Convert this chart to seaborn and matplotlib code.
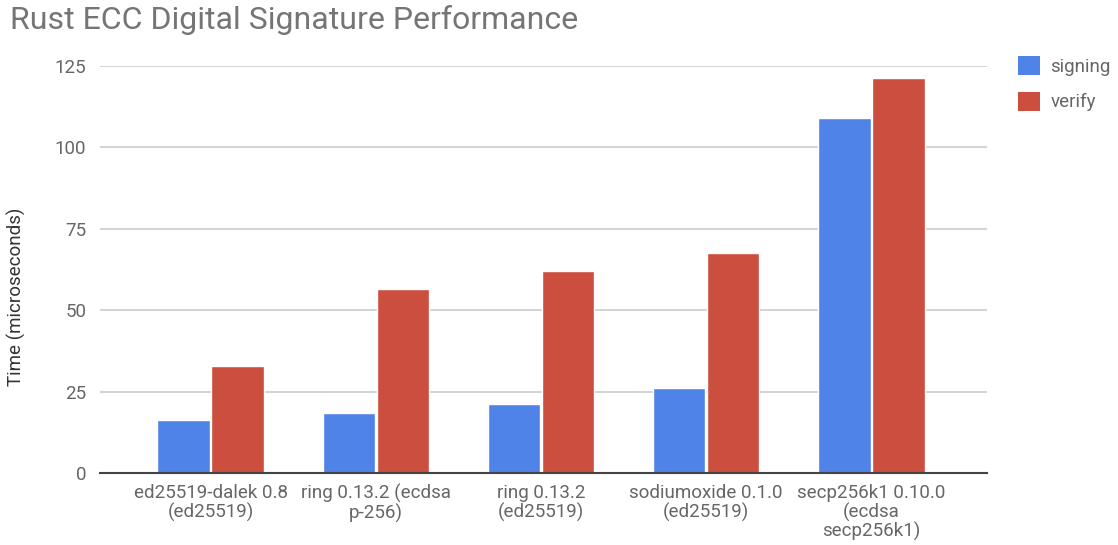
import matplotlib
matplotlib.use("Agg")
import matplotlib.pyplot as plt
import seaborn as sns
import pandas as pd
from matplotlib.patches import Patch

categories = [
    "ed25519-dalek 0.8\n(ed25519)",
    "ring 0.13.2 (ecdsa\np-256)",
    "ring 0.13.2\n(ed25519)",
    "sodiumoxide 0.1.0\n(ed25519)",
    "secp256k1 0.10.0\n(ecdsa\nsecp256k1)",
]
signing = [16.3, 18.3, 21.2, 26.1, 108.9]
verify = [33.0, 56.5, 62.0, 67.6, 121.2]
series = ["signing", "verify"]
colors = ["#5083e8", "#cb4e3e"]
yticks = [0, 25, 50, 75, 100, 125]

df = pd.DataFrame({
    "category": categories * 2,
    "series": [series[0]] * len(categories) + [series[1]] * len(categories),
    "value": signing + verify,
})

sns.set_theme(style="white")
plt.rcParams["font.family"] = ["Roboto", "DejaVu Sans"]

FS = 13.5

fig = plt.figure(figsize=(11.18, 5.45), dpi=100)
ax = fig.add_axes([100 / 1118, 1 - 473 / 545, 887 / 1118, 407 / 545])

sns.barplot(data=df, x="category", y="value", hue="series", order=categories,
            hue_order=series, palette=colors, width=0.655, gap=0.03,
            saturation=1, ax=ax, legend=False)

ax.set_xlim(-0.67, 4.70)
ax.set_ylim(0, 125)
ax.set_yticks(yticks)
ax.set_yticklabels([str(t) for t in yticks], fontsize=FS, color="#666666")
ax.yaxis.grid(True, color="#cccccc", linewidth=1.2)
ax.set_axisbelow(True)
for s in ["top", "right", "left"]:
    ax.spines[s].set_visible(False)
ax.spines["bottom"].set_color("#444444")
ax.spines["bottom"].set_linewidth(1.5)
ax.spines["bottom"].set_zorder(5)
ax.tick_params(axis="y", length=0, pad=10)
ax.tick_params(axis="x", length=0, pad=8)
for lbl in ax.get_xticklabels():
    lbl.set_fontsize(FS)
    lbl.set_color("#666666")
    lbl.set_linespacing(1.02)
ax.set_xlabel("")
ax.set_ylabel("Time (microseconds)", fontsize=FS, color="#333333")
ax.yaxis.set_label_coords(-0.083, (473 - 297) / 407)

fig.text(10 / 1118, 1 - 20 / 545, "Rust ECC Digital Signature Performance",
         fontsize=23, color="#757575", ha="left", va="center")

handles = [Patch(facecolor=c, edgecolor="none") for c in colors]
leg = fig.legend(handles, series, loc="upper left",
                 bbox_to_anchor=(1018 / 1118, 1 - 56 / 545), frameon=False,
                 fontsize=FS, handlelength=1.17, handleheight=1.17,
                 labelspacing=0.85, handletextpad=0.55, borderpad=0,
                 borderaxespad=0)
for t in leg.get_texts():
    t.set_color("#666666")

fig.savefig("out.png", dpi=100)
